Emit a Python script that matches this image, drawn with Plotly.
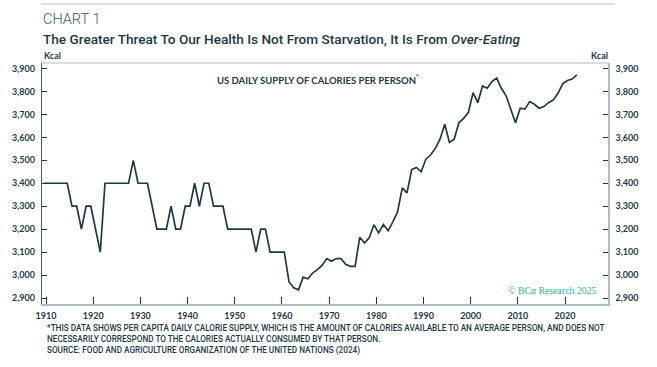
import plotly.graph_objects as go

# ---------------- data ----------------
years = list(range(1909, 2023))
kcal = [
    3400, 3400, 3400, 3400, 3400, 3400, 3300, 3300, 3200, 3300,   # 1909-1918
    3300, 3200, 3100, 3400, 3400, 3400, 3400, 3400, 3400, 3500,   # 1919-1928
    3400, 3400, 3400, 3300, 3200, 3200, 3200, 3300, 3200, 3200,   # 1929-1938
    3300, 3300, 3400, 3300, 3400, 3400, 3300, 3300, 3300, 3200,   # 1939-1948
    3200, 3200, 3200, 3200, 3200, 3100, 3200, 3200, 3100, 3100,   # 1949-1958
    3100, 3100, 2970, 2945, 2936, 2991, 2984, 3009, 3024, 3042,   # 1959-1968
    3072, 3060, 3072, 3072, 3047, 3038, 3038, 3165, 3140, 3162,   # 1969-1978
    3219, 3184, 3220, 3193, 3232, 3275, 3380, 3358, 3460, 3469,   # 1979-1988
    3450, 3505, 3523, 3552, 3592, 3657, 3578, 3592, 3664, 3683,   # 1989-1998
    3708, 3795, 3751, 3824, 3814, 3843, 3858, 3814, 3781, 3723,   # 1999-2008
    3664, 3727, 3723, 3756, 3744, 3727, 3734, 3751, 3763, 3792,   # 2009-2018
    3833, 3848, 3854, 3872,                                       # 2019-2022
]
x_ticks = list(range(1910, 2030, 10))
y_ticks = list(range(2900, 4000, 100))

title_prefix = "The Greater Threat To Our Health Is Not From Starvation, It Is From "
title_italic = "Over-Eating"
chart_label = "CHART 1"
subtitle = "US DAILY SUPPLY OF CALORIES PER PERSON<sup>*</sup>"
footnote = [
    "*THIS DATA SHOWS PER CAPITA DAILY CALORIE SUPPLY, WHICH IS THE AMOUNT OF CALORIES AVAILABLE TO AN AVERAGE PERSON, AND DOES NOT",
    "NECESSARILY CORRESPOND TO THE CALORIES ACTUALLY CONSUMED BY THAT PERSON.",
    "SOURCE: FOOD AND AGRICULTURE ORGANIZATION OF THE UNITED NATIONS (2024)",
]
watermark = "© BCα Research 2025"

# ---------------- layout geometry ----------------
W_PX, H_PX = 657, 367
L, R, T, B = 38, 608.3, 63.3, 303.7
PW, PH = R - L, B - T


def px(xp):
    return (xp - L) / PW


def py(yp):
    return 1 - (yp - T) / PH


DARK = "#1d3a43"
FRAME = "#aebbc0"
x_vals = [y + 0.5 for y in years]  # annual values plotted at mid-year

fig = go.Figure()
fig.add_trace(go.Scatter(
    x=x_vals, y=kcal, mode="lines",
    line=dict(color=DARK, width=1.7),
    hoverinfo="skip", showlegend=False,
))
fig.add_trace(go.Scatter(
    x=x_vals, y=kcal, yaxis="y2", mode="lines",
    line=dict(color="rgba(0,0,0,0)", width=0),
    hoverinfo="skip", showlegend=False,
))

tickfont = dict(family="Lato", size=9, color=DARK, weight=700)
yr = [2874, 3924]

fig.update_layout(
    width=W_PX, height=H_PX,
    margin=dict(l=L, r=W_PX - R, t=T, b=H_PX - B, pad=0),
    paper_bgcolor="white", plot_bgcolor="white",
    xaxis=dict(
        range=[1909.15, 2029.1], tickvals=x_ticks, ticks="inside", ticklen=7,
        tickwidth=1.3, tickcolor=DARK, showgrid=False, zeroline=False,
        showline=True, linecolor=FRAME, linewidth=1.5, tickfont=tickfont,
        ticklabelstandoff=2,
    ),
    yaxis=dict(
        range=yr, tickvals=y_ticks, tickformat=",", ticks="inside", ticklen=5,
        tickwidth=1.2, tickcolor=DARK, showgrid=False, zeroline=False,
        showline=True, linecolor="#4a5e66", linewidth=1.3, tickfont=tickfont,
        ticklabelstandoff=4,
    ),
    yaxis2=dict(
        range=yr, tickvals=y_ticks, tickformat=",", ticks="inside", ticklen=5,
        tickwidth=1.2, tickcolor=DARK, showgrid=False, zeroline=False,
        overlaying="y", side="right", showline=True, linecolor=FRAME,
        linewidth=1.5, tickfont=tickfont, ticklabelstandoff=4,
    ),
)

# frame top line
fig.add_shape(type="line", xref="paper", yref="paper", x0=0, x1=1, y0=1, y1=1,
              line=dict(color=FRAME, width=1.2))
# top divider
fig.add_shape(type="line", xref="paper", yref="paper", x0=px(37), x1=px(615),
              y0=py(4.5), y1=py(4.5), line=dict(color="#cdd4d6", width=1.5))

ann = []
ann.append(dict(text=chart_label, x=px(37), y=py(20), xanchor="left", yanchor="middle",
                font=dict(family="Roboto", size=14.5, color="#3e5660", weight=300)))
ann.append(dict(text=title_prefix + "<i>" + title_italic + "</i>", x=px(37), y=py(39),
                xanchor="left", yanchor="middle",
                font=dict(family="Roboto", size=13.6, color=DARK, weight=500)))
ann.append(dict(text="Kcal", x=px(38), y=py(56), xanchor="left", yanchor="middle",
                font=dict(family="Lato", size=9, color=DARK, weight=700)))
ann.append(dict(text="Kcal", x=px(610), y=py(56), xanchor="right", yanchor="middle",
                font=dict(family="Lato", size=9, color=DARK, weight=700)))
ann.append(dict(text=subtitle, x=px(316), y=py(80), xanchor="center", yanchor="middle",
                font=dict(family="Lato", size=9.5, color=DARK, weight=700)))
ann.append(dict(text=watermark, x=px(599), y=py(290), xanchor="right", yanchor="middle",
                font=dict(family="Liberation Serif", size=9.8, color="#2fb494")))
for i, line in enumerate(footnote):
    ann.append(dict(text=line, x=px(41), y=py(328 + 11 * i), xanchor="left", yanchor="middle",
                    font=dict(family="Roboto", size=8.2, color=DARK, weight=500)))

for a in ann:
    a.update(xref="paper", yref="paper", showarrow=False)
fig.update_layout(annotations=ann)

fig.write_html("out.html", config={"displayModeBar": False},
               post_script="document.body.style.margin='0';document.body.style.padding='0';")
